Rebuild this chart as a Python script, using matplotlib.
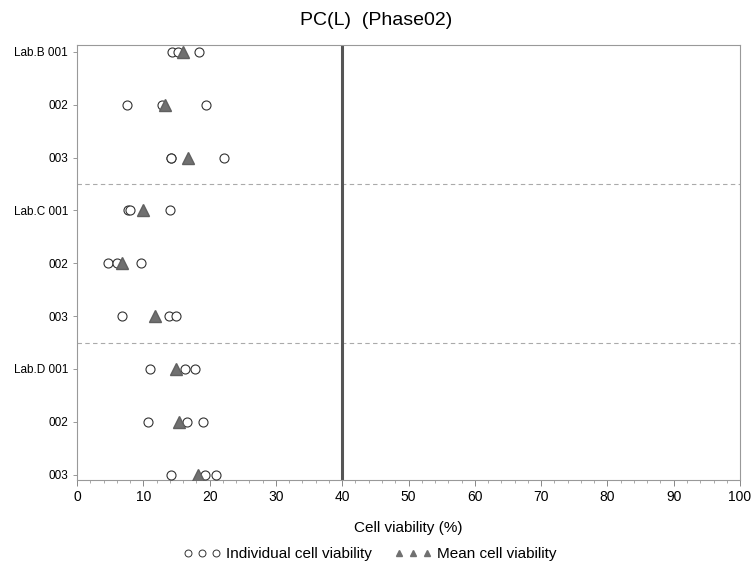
import numpy as np
import matplotlib
matplotlib.use('Agg')
import matplotlib.pyplot as plt
from matplotlib.lines import Line2D

plt.rcParams['font.family'] = ['Liberation Sans', 'DejaVu Sans']

row_labels = ['Lab.B 001', '002', '003',
              'Lab.C 001', '002', '003',
              'Lab.D 001', '002', '003']

# individual cell viability (3 per row)
indiv = [
    [14.3, 15.3, 18.4],
    [7.6, 12.8, 19.5],
    [14.1, 14.2, 22.1],
    [7.7, 8.0, 14.0],
    [4.7, 6.0, 9.6],
    [6.8, 13.8, 14.9],
    [11.0, 16.3, 17.8],
    [10.7, 16.6, 19.0],
    [14.2, 19.3, 21.0],
]
means = [16.0, 13.3, 16.8, 9.9, 6.8, 11.8, 15.0, 15.4, 18.2]

fig = plt.figure(figsize=(7.53, 5.66), dpi=100)
ax = fig.add_axes([0.1023, 0.152, 0.8805, 0.7686])

rows = np.arange(len(row_labels))
for i, vals in enumerate(indiv):
    ax.plot(vals, [i] * len(vals), linestyle='none', marker='o', markersize=6.5,
            markerfacecolor='white', markeredgecolor='#333333', markeredgewidth=0.8, zorder=3)
ax.plot(means, rows, linestyle='none', marker='^', markersize=9,
        markerfacecolor='#707070', markeredgecolor='#606060', zorder=4)

ax.axvline(40, color='#555555', linewidth=2.2, zorder=2)
for y in [2.5, 5.5]:
    ax.axhline(y, color='#aaaaaa', linestyle=(0, (4, 3)), linewidth=0.8, zorder=1)

ax.set_xlim(0, 100)
ax.set_ylim(8.1, -0.13)
ax.set_xticks(np.arange(0, 101, 10))
ax.set_xticks(np.arange(0, 101, 2), minor=True)
ax.set_yticks(rows)
ax.set_yticklabels(row_labels, fontsize=8.5)
ax.tick_params(axis='x', labelsize=10, length=4, width=0.7, color='#888888')
ax.tick_params(axis='x', which='minor', length=2, width=0.5, color='#888888')
ax.tick_params(axis='y', length=3, width=0.6, color='#888888')
for s in ax.spines.values():
    s.set_color('#999999')
    s.set_linewidth(0.8)

ax.set_xlabel('Cell viability (%)', fontsize=11, labelpad=12)
fig.text(0.5, 0.964, 'PC(L)  (Phase02)', fontsize=14, ha='center', va='center')

handles = [
    Line2D([], [], linestyle='none', marker='o', markersize=5,
           markerfacecolor='white', markeredgecolor='#333333', markeredgewidth=0.7),
    Line2D([], [], linestyle='none', marker='^', markersize=4,
           markerfacecolor='#707070', markeredgecolor='#707070'),
]
fig.legend(handles, ['Individual cell viability', 'Mean cell viability'],
           loc='center', bbox_to_anchor=(0.491, 0.021), ncol=2, numpoints=3,
           frameon=False, fontsize=11, handlelength=2.43, handletextpad=0.35,
           columnspacing=1.46, borderpad=0, borderaxespad=0)

fig.savefig('out.png', dpi=100)
